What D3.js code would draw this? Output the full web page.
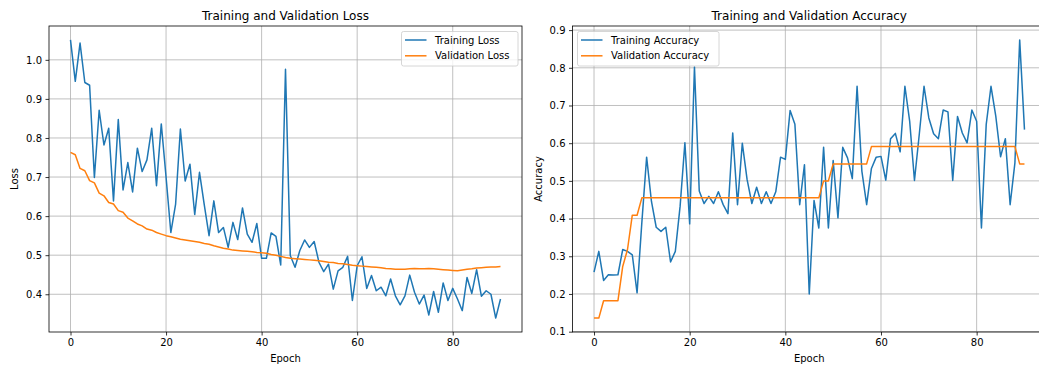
<!DOCTYPE html>
<html>
<head>
<meta charset="utf-8">
<script src="https://cdn.jsdelivr.net/npm/d3@7"></script>
<style>
  body { margin: 0; background: #fff; }
  svg { display: block; font-family: "DejaVu Sans", sans-serif; }
</style>
</head>
<body>
<svg id="chart" width="1039" height="368"></svg>
<script>
// values, one per epoch (0..90)
const trainLoss = [1.051, 0.945, 1.043, 0.942, 0.935, 0.699, 0.871, 0.782, 0.825, 0.639,
  0.847, 0.667, 0.737, 0.662, 0.774, 0.714, 0.744, 0.825, 0.678, 0.836,
  0.700, 0.558, 0.631, 0.823, 0.690, 0.733, 0.604, 0.712, 0.629, 0.550,
  0.639, 0.558, 0.571, 0.520, 0.584, 0.540, 0.621, 0.554, 0.533, 0.581,
  0.492, 0.492, 0.557, 0.548, 0.475, 0.976, 0.499, 0.469, 0.512, 0.539,
  0.520, 0.535, 0.482, 0.458, 0.477, 0.413, 0.460, 0.469, 0.497, 0.384,
  0.473, 0.496, 0.415, 0.448, 0.409, 0.418, 0.396, 0.439, 0.396, 0.373,
  0.396, 0.449, 0.405, 0.375, 0.398, 0.347, 0.407, 0.354, 0.429, 0.384,
  0.415, 0.388, 0.358, 0.443, 0.402, 0.463, 0.395, 0.409, 0.400, 0.339, 0.388];

const valLoss = [0.763, 0.757, 0.722, 0.716, 0.691, 0.685, 0.659, 0.652, 0.635, 0.631,
  0.614, 0.610, 0.595, 0.588, 0.580, 0.575, 0.567, 0.564, 0.558, 0.554,
  0.550, 0.547, 0.544, 0.541, 0.539, 0.537, 0.535, 0.533, 0.530, 0.528,
  0.524, 0.521, 0.518, 0.516, 0.513, 0.512, 0.511, 0.510, 0.509, 0.507,
  0.506, 0.505, 0.502, 0.500, 0.497, 0.494, 0.492, 0.491, 0.490, 0.489,
  0.488, 0.487, 0.486, 0.484, 0.482, 0.481, 0.479, 0.478, 0.476, 0.474,
  0.473, 0.472, 0.471, 0.470, 0.469, 0.468, 0.466, 0.465, 0.464, 0.464,
  0.464, 0.465, 0.466, 0.465, 0.465, 0.466, 0.465, 0.464, 0.463, 0.462,
  0.461, 0.460, 0.462, 0.464, 0.465, 0.467, 0.468, 0.469, 0.470, 0.470, 0.471];

const trainAcc = [0.258, 0.313, 0.236, 0.251, 0.250, 0.251, 0.318, 0.313, 0.304, 0.203,
  0.390, 0.563, 0.446, 0.377, 0.366, 0.377, 0.285, 0.313, 0.433, 0.601,
  0.386, 0.802, 0.473, 0.440, 0.459, 0.440, 0.471, 0.437, 0.413, 0.627,
  0.437, 0.600, 0.504, 0.440, 0.483, 0.440, 0.471, 0.440, 0.471, 0.563,
  0.557, 0.687, 0.650, 0.437, 0.543, 0.200, 0.448, 0.375, 0.589, 0.375,
  0.554, 0.402, 0.589, 0.561, 0.506, 0.751, 0.526, 0.437, 0.533, 0.563,
  0.565, 0.502, 0.612, 0.626, 0.577, 0.751, 0.658, 0.501, 0.623, 0.751,
  0.667, 0.625, 0.612, 0.688, 0.683, 0.501, 0.671, 0.627, 0.601, 0.688,
  0.658, 0.375, 0.650, 0.751, 0.672, 0.564, 0.612, 0.437, 0.548, 0.874, 0.636];

const valAcc = [0.136, 0.136, 0.182, 0.182, 0.182, 0.182, 0.273, 0.318, 0.409, 0.409,
  0.455, 0.455, 0.455, 0.455, 0.455, 0.455, 0.455, 0.455, 0.455, 0.455,
  0.455, 0.455, 0.455, 0.455, 0.455, 0.455, 0.455, 0.455, 0.455, 0.455,
  0.455, 0.455, 0.455, 0.455, 0.455, 0.455, 0.455, 0.455, 0.455, 0.455,
  0.455, 0.455, 0.455, 0.455, 0.455, 0.455, 0.455, 0.455, 0.500, 0.500,
  0.545, 0.545, 0.545, 0.545, 0.545, 0.545, 0.545, 0.545, 0.591, 0.591,
  0.591, 0.591, 0.591, 0.591, 0.591, 0.591, 0.591, 0.591, 0.591, 0.591,
  0.591, 0.591, 0.591, 0.591, 0.591, 0.591, 0.591, 0.591, 0.591, 0.591,
  0.591, 0.591, 0.591, 0.591, 0.591, 0.591, 0.591, 0.591, 0.591, 0.545, 0.545];

const epochTicks = [0, 20, 40, 60, 80];
const lossTicks = [0.4, 0.5, 0.6, 0.7, 0.8, 0.9, 1.0];
const accTicks = [0.1, 0.2, 0.3, 0.4, 0.5, 0.6, 0.7, 0.8, 0.9];

const colors = { train: "#1f77b4", val: "#ff7f0e", grid: "#b0b0b0", text: "#000" };

const svg = d3.select("#chart");
svg.append("rect").attr("width", 1039).attr("height", 368).attr("fill", "#fff");

// matplotlib-style auto limits: 5% padding on data range
function padded(arrays) {
  const all = arrays.flat();
  const lo = d3.min(all), hi = d3.max(all);
  const pad = (hi - lo) * 0.05;
  return [lo - pad, hi + pad];
}

function drawPanel(opts) {
  const { left, right, top, bottom, train, val, yTicks, title, yLabel, labels, legendAt } = opts;
  const n = train.length;

  const x = d3.scaleLinear().domain([-(n - 1) * 0.05, (n - 1) * 1.05]).range([left, right]);
  const y = d3.scaleLinear().domain(padded([train, val])).range([bottom, top]);

  const g = svg.append("g");

  // grid
  g.append("g").selectAll("line").data(epochTicks).enter().append("line")
    .attr("x1", d => x(d)).attr("x2", d => x(d))
    .attr("y1", top).attr("y2", bottom)
    .attr("stroke", colors.grid).attr("stroke-width", 0.8);
  g.append("g").selectAll("line").data(yTicks).enter().append("line")
    .attr("x1", left).attr("x2", right)
    .attr("y1", d => y(d)).attr("y2", d => y(d))
    .attr("stroke", colors.grid).attr("stroke-width", 0.8);

  // series
  const line = d3.line().x((d, i) => x(i)).y(d => y(d));
  g.append("path").datum(train).attr("d", line)
    .attr("fill", "none").attr("stroke", colors.train).attr("stroke-width", 1.5)
    .attr("stroke-linejoin", "round");
  g.append("path").datum(val).attr("d", line)
    .attr("fill", "none").attr("stroke", colors.val).attr("stroke-width", 1.5)
    .attr("stroke-linejoin", "round");

  // frame
  g.append("rect")
    .attr("x", left).attr("y", top)
    .attr("width", right - left).attr("height", bottom - top)
    .attr("fill", "none").attr("stroke", "#000").attr("stroke-width", 0.8);

  // axes
  const xAxis = g.append("g")
    .attr("transform", `translate(0,${bottom})`)
    .call(d3.axisBottom(x).tickValues(epochTicks).tickSize(3.5).tickPadding(3.5).tickFormat(d3.format("d")));
  const yAxis = g.append("g")
    .attr("transform", `translate(${left},0)`)
    .call(d3.axisLeft(y).tickValues(yTicks).tickSize(3.5).tickPadding(3.5).tickFormat(d3.format(".1f")));
  [xAxis, yAxis].forEach(a => {
    a.select(".domain").remove();
    a.selectAll("line").attr("stroke", "#000").attr("stroke-width", 0.8);
    a.selectAll("text").attr("fill", colors.text)
      .style("font-size", "10px").style("font-family", "DejaVu Sans, sans-serif");
  });

  // title and labels
  g.append("text")
    .attr("x", (left + right) / 2).attr("y", top - 6)
    .attr("text-anchor", "middle").attr("font-size", "12px").attr("fill", colors.text)
    .text(title);
  g.append("text")
    .attr("x", (left + right) / 2).attr("y", bottom + 30)
    .attr("text-anchor", "middle").attr("font-size", "10px").attr("fill", colors.text)
    .text("Epoch");
  g.append("text")
    .attr("transform", `translate(${left - 31},${(top + bottom) / 2}) rotate(-90)`)
    .attr("text-anchor", "middle").attr("font-size", "10px").attr("fill", colors.text)
    .text(yLabel);

  // legend
  const lg = g.append("g").attr("transform", `translate(${legendAt[0]},${legendAt[1]})`);
  lg.append("rect")
    .attr("width", legendAt[2]).attr("height", 34.5).attr("rx", 2)
    .attr("fill", "#fff").attr("fill-opacity", 0.8)
    .attr("stroke", "#cccccc").attr("stroke-width", 0.8);
  [[labels[0], colors.train], [labels[1], colors.val]].forEach(([label, c], k) => {
    const yy = 8.5 + k * 15.8;
    lg.append("line")
      .attr("x1", 3.5).attr("x2", 25).attr("y1", yy).attr("y2", yy)
      .attr("stroke", c).attr("stroke-width", 1.5);
    lg.append("text")
      .attr("x", 33.5).attr("y", yy + 3.6)
      .attr("font-size", "10px").attr("fill", colors.text)
      .text(label);
  });
}

drawPanel({
  left: 49, right: 522, top: 26, bottom: 332,
  train: trainLoss, val: valLoss, yTicks: lossTicks,
  title: "Training and Validation Loss", yLabel: "Loss",
  labels: ["Training Loss", "Validation Loss"],
  legendAt: [401.5, 31.5, 116.5]
});

drawPanel({
  left: 572.5, right: 1046, top: 26, bottom: 332,
  train: trainAcc, val: valAcc, yTicks: accTicks,
  title: "Training and Validation Accuracy", yLabel: "Accuracy",
  labels: ["Training Accuracy", "Validation Accuracy"],
  legendAt: [577.5, 31.5, 141.5]
});
</script>
</body>
</html>
